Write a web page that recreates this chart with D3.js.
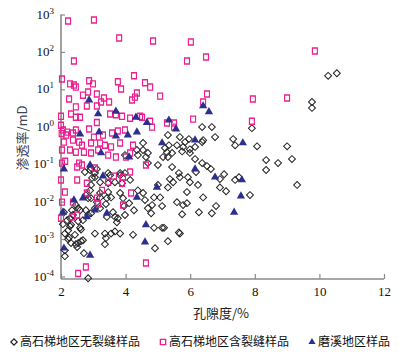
<!DOCTYPE html>
<html>
<head>
<meta charset="utf-8">
<script src="https://cdn.jsdelivr.net/npm/d3@7"></script>
<style>
  body { margin: 0; background: #fff; }
  svg { display: block; }
</style>
</head>
<body>
<svg id="chart"></svg>
<script>
// porosity (%) , permeability (mD)
const noFracture = [
  [10.27, 23], [10.54, 27], [9.77, 4.6], [9.77, 3.2],
  [6.37, 0.98], [6.67, 0.98], [6.77, 0.53], [7.91, 0.92], [7.33, 0.47], [7.39, 0.32],
  [8.07, 0.30], [9.00, 0.30], [5.96, 0.47], [5.68, 0.53], [6.40, 0.44], [5.78, 0.29],
  [6.15, 0.29], [8.35, 0.129], [8.72, 0.107], [9.15, 0.137], [8.35, 0.070], [9.31, 0.028],
  [7.85, 0.015], [6.15, 0.137], [6.37, 0.107], [6.52, 0.089], [6.64, 0.074], [6.18, 0.062],
  [7.05, 0.054], [6.92, 0.040], [7.39, 0.038], [7.51, 0.045], [5.99, 0.033], [6.24, 0.028],
  [6.92, 0.024], [7.11, 0.019], [5.90, 0.018], [6.40, 0.013], [6.80, 0.0076], [6.67, 0.0049],
  [6.27, 0.0052], [5.75, 0.0046], [5.68, 0.0014], [5.99, 0.20], [6.37, 0.39], [5.31, 0.60],
  [5.34, 0.32], [5.22, 0.27], [5.99, 0.25], [5.75, 0.22], [5.44, 0.20], [5.31, 0.155],
  [5.16, 0.155], [5.00, 0.095], [5.44, 0.084], [5.65, 0.058], [5.37, 0.040], [5.47, 0.033],
  [5.31, 0.024], [5.93, 0.045], [5.00, 0.028], [5.07, 0.013], [5.59, 0.0097], [5.78, 0.0081],
  [5.90, 0.0091], [5.13, 0.0076], [5.13, 0.0020], [5.19, 0.0020], [5.65, 0.0015], [5.31, 0.00088],
  [4.91, 0.00057], [2.09, 0.0052], [2.28, 0.0036], [2.37, 0.0044], [2.53, 0.0030], [2.31, 0.0024],
  [2.62, 0.0018], [2.12, 0.0014], [2.25, 0.0011], [2.31, 0.00078], [2.46, 0.00073], [2.62, 0.00088],
  [3.05, 0.0014], [3.36, 0.0014], [3.39, 0.00106], [3.36, 0.00073], [3.55, 0.0014], [3.67, 0.0016],
  [3.83, 0.0014], [4.23, 0.0013], [3.39, 0.0086], [3.67, 0.0039], [3.73, 0.0028], [3.95, 0.0076],
  [4.11, 0.0091], [4.26, 0.0059], [4.69, 0.0067], [4.79, 0.0049], [2.71, 0.00042], [2.12, 0.00035],
  [2.84, 0.00009], [2.53, 0.0067], [2.77, 0.0059], [2.06, 0.0025], [2.22, 0.0017], [2.93, 0.0049],
  [3.05, 0.0067], [2.53, 0.00078], [2.59, 0.0020], [4.88, 0.0020], [3.98, 0.0044], [4.82, 0.0081],
  [4.88, 0.013], [5.68, 0.045], [5.28, 0.21], [5.59, 0.32], [5.84, 0.39], [4.69, 0.20],
  [4.54, 0.37], [4.35, 0.24], [3.98, 0.175], [3.83, 0.058], [3.52, 0.051], [3.67, 0.033],
  [3.21, 0.033], [3.21, 0.017], [3.42, 0.0124], [3.61, 0.0052], [3.76, 0.0036], [2.90, 0.070],
  [3.05, 0.058], [2.96, 0.043], [2.74, 0.062], [2.84, 0.0124], [2.46, 0.0081], [2.59, 0.0059],
  [2.34, 0.0059], [2.19, 0.0032], [2.28, 0.0022], [2.43, 0.0013], [2.22, 0.00099], [2.12, 0.00050],
  [2.50, 0.00061], [2.68, 0.00093], [2.68, 0.0032], [2.84, 0.0044], [3.21, 0.0067], [3.42, 0.0039],
  [4.54, 0.24], [4.38, 0.175], [4.63, 0.155], [4.69, 0.107], [2.93, 0.079], [3.11, 0.074],
  [3.05, 0.045], [3.46, 0.058], [2.93, 0.028], [2.90, 0.020], [3.46, 0.031], [3.83, 0.051],
  [3.98, 0.058], [4.14, 0.038], [3.89, 0.031], [4.38, 0.020], [4.54, 0.017], [3.46, 0.018],
  [3.55, 0.013], [3.83, 0.017], [3.92, 0.0124], [3.21, 0.013], [3.11, 0.0097], [2.77, 0.015],
  [2.93, 0.0124], [4.60, 0.011]
];

const withFracture = [
  [2.22, 670], [3.02, 710], [3.80, 235], [4.85, 196], [6.02, 184], [9.86, 106], [5.90, 57],
  [2.40, 57], [6.49, 73], [2.03, 19], [2.28, 14], [2.40, 13], [2.46, 11.5], [2.87, 17],
  [2.99, 14], [3.76, 16], [3.86, 10.2], [4.26, 23], [4.60, 15], [4.76, 11.5], [6.52, 7.5],
  [6.40, 4.6], [7.94, 5.5], [9.00, 5.9], [5.07, 6.6], [6.09, 1.6], [7.91, 1.4], [5.28, 1.26],
  [5.50, 1.26], [5.50, 0.98], [2.68, 7.0], [2.84, 8.5], [3.11, 7.5], [2.25, 5.5], [3.33, 5.9],
  [3.24, 4.6], [3.49, 4.6], [4.35, 8.0], [4.29, 6.2], [4.20, 5.2], [2.46, 3.4], [2.80, 3.6],
  [3.11, 3.6], [2.00, 1.9], [2.31, 2.2], [2.46, 1.8], [2.59, 1.8], [3.11, 1.3], [3.52, 2.2],
  [3.70, 2.1], [3.89, 1.9], [4.14, 1.7], [4.45, 1.9], [4.51, 1.8], [4.76, 1.4], [4.82, 0.98],
  [2.00, 1.1], [2.06, 0.82], [2.19, 0.72], [2.46, 0.82], [2.87, 0.87], [3.58, 0.68], [3.76, 0.77],
  [3.98, 0.82], [2.02, 0.66], [2.16, 0.60], [2.37, 0.68], [3.02, 0.53], [3.30, 0.60], [2.09, 0.39],
  [2.37, 0.44], [2.56, 0.39], [2.65, 0.32], [2.93, 0.37], [3.21, 0.37], [3.36, 0.32], [3.55, 0.29],
  [3.83, 0.37], [4.23, 0.32], [2.03, 0.24], [2.28, 0.24], [2.46, 0.21], [2.71, 0.21], [2.93, 0.20],
  [3.15, 0.24], [3.46, 0.175], [3.70, 0.155], [4.01, 0.155], [4.14, 0.20], [2.03, 0.107], [2.56, 0.107],
  [2.65, 0.095], [3.05, 0.079], [4.63, 0.095], [2.00, 0.038], [2.50, 0.038], [3.92, 0.045], [4.14, 0.062],
  [2.12, 0.018], [2.03, 0.0097], [2.37, 0.0097], [2.13, 0.12], [2.50, 0.084], [2.80, 0.031], [2.80, 0.017],
  [3.11, 0.0124], [3.27, 0.020], [3.46, 0.033], [3.64, 0.048], [3.89, 0.031], [3.92, 0.0081], [4.17, 0.017],
  [2.34, 0.0039], [2.00, 0.0036], [2.50, 0.0044], [4.63, 0.00023], [2.77, 0.00018], [2.53, 0.00012],
  [3.15, 0.0086]
];

const moxi = [
  [2.87, 5.2], [3.15, 2.2], [3.70, 2.6], [4.32, 1.8], [4.66, 1.3], [5.34, 1.5], [5.56, 0.87],
  [2.59, 0.64], [3.18, 0.72], [3.70, 0.56], [4.07, 0.60], [4.35, 0.72], [5.13, 0.37], [6.15, 0.44],
  [6.40, 3.6], [6.58, 2.5], [7.63, 0.37], [3.24, 0.20], [2.90, 0.095], [2.09, 0.074], [3.30, 0.048],
  [4.11, 0.155], [2.68, 0.0124], [2.40, 0.011], [3.05, 0.0059], [2.80, 0.0039], [3.42, 0.0049],
  [4.35, 0.013], [4.97, 0.024], [4.63, 0.0024], [4.60, 0.00083], [2.09, 0.00057], [2.90, 0.00037],
  [2.06, 0.0052], [6.15, 0.074], [6.77, 0.045], [7.60, 0.038], [7.57, 0.014], [7.36, 0.0052]
];

const xTicks = [2, 4, 6, 8, 10, 12];
const yExponents = [-4, -3, -2, -1, 0, 1, 2, 3];
const legendLabels = ["高石梯地区无裂缝样品", "高石梯地区含裂缝样品", "磨溪地区样品"];

const W = 400, H = 356;
const svg = d3.select("#chart").attr("width", W).attr("height", H);

const x = d3.scaleLinear().domain([2, 12]).range([61, 384]);
const y = d3.scaleLog().domain([1e-4, 1e3]).range([276.5, 14.5]);
const axisY = 279;
const axisColor = "#8a8a8a";
const serif = "'Liberation Serif', 'DejaVu Serif', serif";
const cjk = "'Noto Sans CJK SC', 'Noto Sans', sans-serif";

// x axis
const gx = svg.append("g")
  .attr("transform", `translate(0,${axisY})`)
  .call(d3.axisBottom(x).tickValues(xTicks).tickSize(-5).tickSizeOuter(0).tickPadding(8));
gx.select(".domain").remove();
gx.selectAll(".tick line").attr("stroke", axisColor).attr("stroke-width", 1.2);
gx.selectAll(".tick text").attr("font-family", serif).attr("font-size", 13).attr("fill", "#111");

// y axis
const yTicks = yExponents.map(e => Math.pow(10, e));
const gy = svg.append("g")
  .attr("transform", `translate(${x(2)},0)`)
  .call(d3.axisLeft(y).tickValues(yTicks).tickSize(-4).tickSizeOuter(0).tickFormat(""));
gy.select(".domain").remove();
gy.selectAll(".tick line").attr("stroke", axisColor).attr("stroke-width", 1.2);

const labels = gy.selectAll(".tick")
  .append("text")
  .attr("x", -7)
  .attr("dy", "0.35em")
  .attr("text-anchor", "end")
  .attr("font-family", serif)
  .attr("fill", "#111");
labels.each(function(d) {
  const t = d3.select(this);
  t.append("tspan").attr("font-size", 13).text("10");
  t.append("tspan").attr("font-size", 9).attr("dy", "-0.55em").text(Math.round(Math.log10(d)));
});

// axis lines
svg.append("line")
  .attr("x1", x(2)).attr("x2", x(2))
  .attr("y1", y(1e3)).attr("y2", axisY)
  .attr("stroke", axisColor).attr("stroke-width", 1.6);
svg.append("line")
  .attr("x1", x(2)).attr("x2", x(12))
  .attr("y1", axisY).attr("y2", axisY)
  .attr("stroke", axisColor).attr("stroke-width", 1.6);

// axis titles
svg.append("text")
  .attr("x", 221).attr("y", 318)
  .attr("text-anchor", "middle")
  .attr("font-family", cjk).attr("font-size", 13).attr("fill", "#222")
  .text("孔隙度/%");
svg.append("text")
  .attr("transform", "translate(27,138) rotate(-90)")
  .attr("text-anchor", "middle")
  .attr("font-family", cjk).attr("font-size", 13).attr("fill", "#3b4558")
  .text("渗透率/mD");

// markers
const diamond = d3.symbol().type(d3.symbolSquare).size(24);
const square = d3.symbol().type(d3.symbolSquare).size(30);
const triangle = d3.symbol().type(d3.symbolTriangle).size(30);
const pink = "#ec1f8e";
const navy = "#2c2f8f";

svg.append("g").selectAll("path")
  .data(noFracture)
  .join("path")
  .attr("d", diamond)
  .attr("transform", d => `translate(${x(d[0])},${y(d[1])}) rotate(45)`)
  .attr("fill", "none").attr("stroke", "#222").attr("stroke-width", 1);

svg.append("g").selectAll("path")
  .data(withFracture)
  .join("path")
  .attr("d", square)
  .attr("transform", d => `translate(${x(d[0])},${y(d[1])}) scale(0.9,1.1)`)
  .attr("fill", "none").attr("stroke", pink).attr("stroke-width", 1.3);

svg.append("g").selectAll("path")
  .data(moxi)
  .join("path")
  .attr("d", triangle)
  .attr("transform", d => `translate(${x(d[0])},${y(d[1])})`)
  .attr("fill", navy);

// legend
const legendX = [14, 163, 312];
const lg = svg.append("g").attr("transform", "translate(0,342)");
const items = lg.selectAll("g").data(legendLabels).join("g")
  .attr("transform", (d, i) => `translate(${legendX[i]},0)`);
items.each(function(d, i) {
  const g = d3.select(this);
  if (i === 0) {
    g.append("path").attr("d", d3.symbol().type(d3.symbolSquare).size(20)).attr("transform", "rotate(45)")
      .attr("fill", "none").attr("stroke", "#222").attr("stroke-width", 1.2);
  } else if (i === 1) {
    g.append("path").attr("d", d3.symbol().type(d3.symbolSquare).size(28))
      .attr("fill", "none").attr("stroke", pink).attr("stroke-width", 1.3);
  } else {
    g.append("path").attr("d", d3.symbol().type(d3.symbolTriangle).size(22)).attr("fill", navy);
  }
  g.append("text")
    .attr("x", 6).attr("dy", "0.35em")
    .attr("font-family", cjk).attr("font-size", 12).attr("fill", "#111")
    .text(d);
});
</script>
</body>
</html>
